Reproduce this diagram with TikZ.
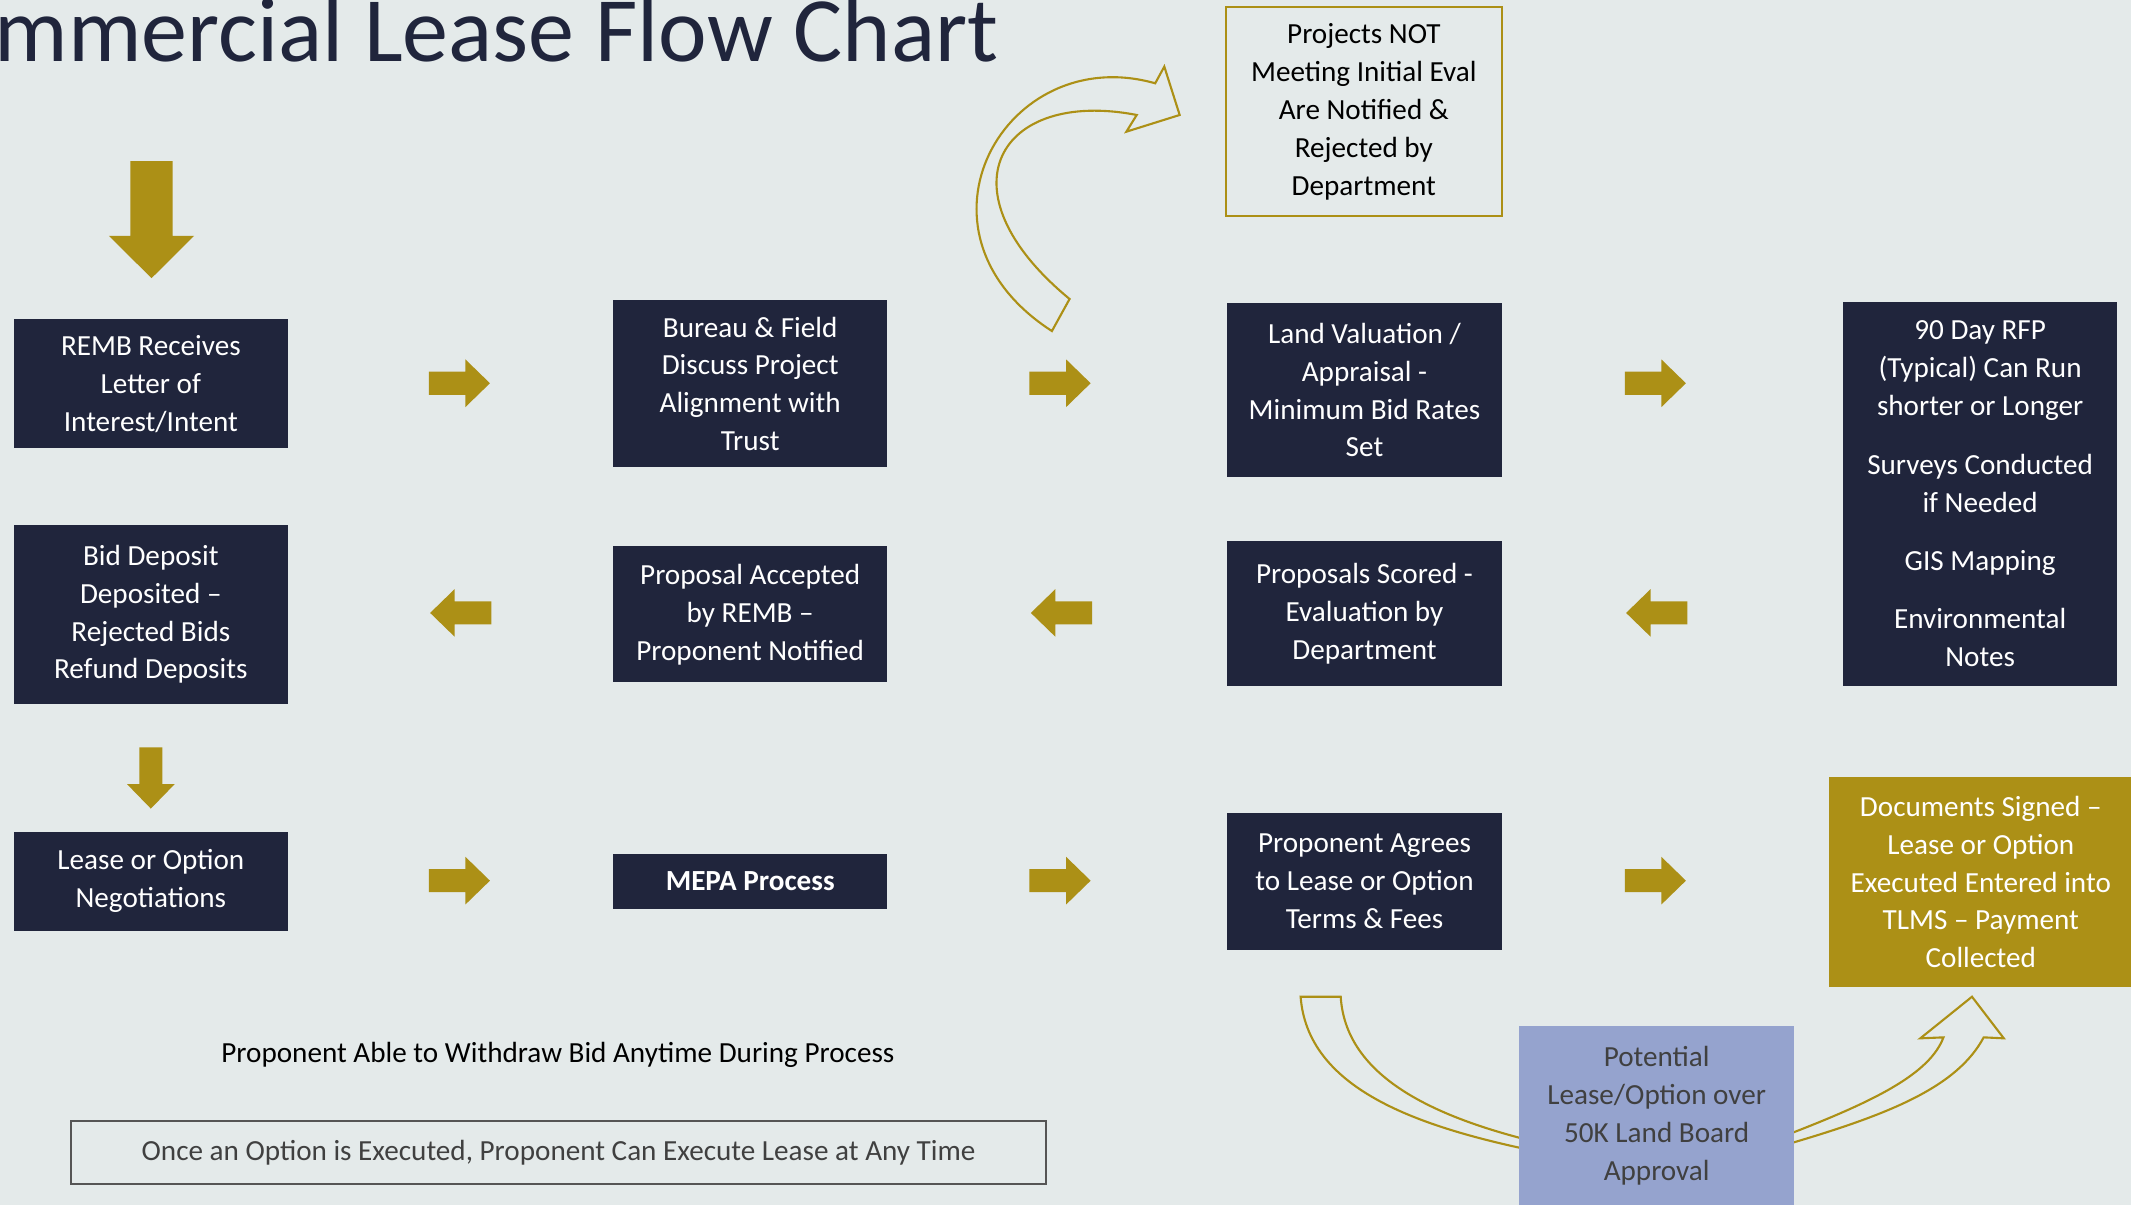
\documentclass[tikz,border=0pt]{standalone}
\usepackage{fontspec}
\setmainfont{Carlito}
\definecolor{navy}{RGB}{32,37,60}
\definecolor{gold}{RGB}{172,144,22}
\definecolor{lilac}{RGB}{149,163,206}
\definecolor{bgcolor}{RGB}{228,234,234}
\definecolor{textgray}{RGB}{64,64,64}
\definecolor{linegray}{RGB}{85,85,85}

\tikzset{
	pics/goright/.style = {code={\fill[gold] (-22.5,-8.5) -- (4.5,-8.5) -- (4.5,-17.5) -- (22.5,0) -- (4.5,17.5) -- (4.5,8.5) -- (-22.5,8.5) -- cycle;}},
	pics/godown/.style = {code={\fill[gold] (-15.5,43.1) -- (15.5,43.1) -- (15.5,-12) -- (31.3,-12) -- (0,-43.1) -- (-31.3,-12) -- (-15.5,-12) -- cycle;}}
}

\begin{document}
\begin{tikzpicture}[x=0.01359cm, y=0.01359cm,
		base/.style = {minimum width=2.745cm, align=center, inner sep=0pt, font=\fontsize{8.3}{10.8}\selectfont},
		navybox/.style = {rectangle, base, fill=navy, text=white},
		hollow/.style = {draw=gold, line width=0.6pt}
		]
		\useasboundingbox (0,0) rectangle (1568,-887);
		\fill[bgcolor] (0,0) rectangle (1568,-887);
		
		\node (title) [anchor=base east, inner sep=0pt, text=navy, font=\fontsize{26.2}{30}\selectfont] at (735,-45) {mmercial Lease Flow Chart};
		
		% first row
		\node (remb) [navybox, minimum height=1.291cm] at (111,-282.5) {REMB Receives\\Letter of\\Interest/Intent};
		\node (bureau) [navybox, minimum height=1.672cm] at (552,-282.5) {Bureau \& Field\\Discuss Project\\Alignment with\\Trust};
		\node (valuation) [navybox, minimum height=1.74cm] at (1004,-287) {Land Valuation /\\Appraisal -\\Minimum Bid Rates\\Set};
		\node (rfp) [navybox, minimum height=3.846cm] at (1457,-363.5) {90 Day RFP\\(Typical) Can Run\\shorter or Longer\\[5.8pt]Surveys Conducted\\if Needed\\[5.8pt]GIS Mapping\\[5.8pt]Environmental\\Notes};
		
		% second row
		\node (deposit) [navybox, minimum height=1.794cm] at (111,-452) {Bid Deposit\\Deposited –\\Rejected Bids\\Refund Deposits};
		\node (accepted) [navybox, minimum height=1.359cm] at (552,-452) {Proposal Accepted\\by REMB –\\Proponent Notified};
		\node (scored) [navybox, minimum height=1.454cm] at (1004,-451.5) {Proposals Scored -\\Evaluation by\\Department};
		
		% third row
		\node (negotiate) [navybox, minimum height=0.992cm] at (111,-648.5) {Lease or Option\\Negotiations};
		\node (mepa) [navybox, minimum height=0.557cm] at (552,-648.5) {\textbf{MEPA Process}};
		\node (agrees) [navybox, minimum height=1.373cm] at (1004,-648.5) {Proponent Agrees\\to Lease or Option\\Terms \& Fees};
		
		% side boxes
		\node (rejected) [base, draw=gold, line width=0.7pt, text=black, minimum width=2.76cm, minimum height=2.093cm] at (1003.5,-82) {Projects NOT\\Meeting Initial Eval\\Are Notified \&\\Rejected by\\Department};
		
		% hollow arrows
		\draw[hollow] (774,-243.6) .. controls (660,-170) and (740,-30) .. (850,-61.3) -- (856.7,-49) -- (868,-84.6) -- (828.8,-96.9) -- (836.4,-84.6) .. controls (735,-65) and (690,-140) .. (787,-220) -- cycle;
		\draw[hollow] (957,-733.4) .. controls (962,-800) and (1040,-828) .. (1125,-846) -- (1315,-842) .. controls (1390,-820) and (1440,-800) .. (1459.6,-763.3) -- (1474.4,-764) -- (1451,-733.4) -- (1413,-764) -- (1430,-763.3) .. controls (1420,-790) and (1380,-810) .. (1315,-835) -- (1125,-839) .. controls (1050,-820) and (990,-790) .. (986.5,-733.4) -- cycle;
		
		\node (signed) [base, fill=gold, text=white, minimum width=3.03cm, minimum height=2.093cm] at (1457.5,-649) {Documents Signed –\\Lease or Option\\Executed Entered into\\TLMS – Payment\\Collected};
		\node (board) [base, fill=lilac, text=textgray, minimum height=1.794cm] at (1219,-821) {Potential\\Lease/Option over\\50K Land Board\\Approval};
		
		% notes
		\node (withdraw) [base, text=black, minimum width=0pt] at (410.5,-776) {Proponent Able to Withdraw Bid Anytime During Process};
		\node (option) [base, draw=linegray, line width=0.6pt, text=textgray, minimum width=9.758cm, minimum height=0.625cm] at (411,-848) {Once an Option is Executed, Proponent Can Execute Lease at Any Time};
		
		% block arrows
		\pic at (111.5,-161.6) {godown};
		\pic[rotate=-90] at (111,-572.5) {goright};
		\pic at (338,-282) {goright};
		\pic at (780,-282) {goright};
		\pic at (1218,-282) {goright};
		\pic[rotate=180] at (339,-451) {goright};
		\pic[rotate=180] at (781,-451) {goright};
		\pic[rotate=180] at (1219,-451) {goright};
		\pic at (338,-648) {goright};
		\pic at (780,-648) {goright};
		\pic at (1218,-648) {goright};
	\end{tikzpicture}
\end{document}
